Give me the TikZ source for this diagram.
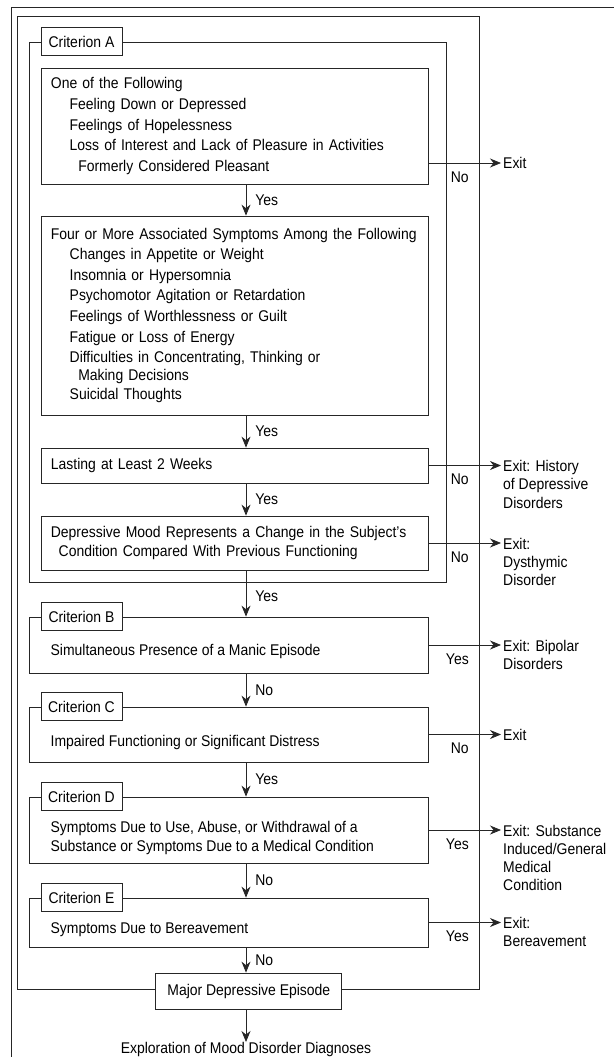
\documentclass[tikz,border=0pt]{standalone}
\usepackage{fontspec}
\setmainfont{Liberation Sans}[FakeStretch=0.9]
\usetikzlibrary{arrows.meta,positioning}

\tikzset{
  frame/.style={draw=black!85, line width=0.8pt, inner sep=0pt},
  stepbox/.style={draw=black!85, line width=0.8pt, text width=368.4pt, align=left,
    inner xsep=9.4pt, inner ysep=0pt, font=\fontsize{15.5}{20.6}\selectfont},
  critbox/.style={draw=black!85, line width=0.8pt, minimum width=399.3pt, inner sep=0pt},
  critlabel/.style={draw=black!85, line width=0.8pt, fill=white, minimum width=81pt,
    minimum height=28pt, inner sep=0pt, font=\fontsize{15.5}{18}\selectfont},
  boxtext/.style={inner sep=0pt, align=left, anchor=west, font=\fontsize{15.5}{19}\selectfont},
  exittext/.style={inner xsep=2pt, inner ysep=0pt, align=left, anchor=north west,
    font=\fontsize{15.5}{18.3}\selectfont},
  flow/.style={draw=black!85, line width=0.8pt, -{Stealth[length=11pt,width=9pt]}},
  ans/.style={right, inner sep=0pt, xshift=9pt, font=\fontsize{15.5}{18}\selectfont},
  side/.style={anchor=north east, inner sep=0pt, yshift=-8pt, font=\fontsize{15.5}{18}\selectfont}
}

\begin{document}
\begin{tikzpicture}[x=1pt, y=-1pt]
  \useasboundingbox (0,0) rectangle (614,1057);
  \coordinate (spine) at (246,0);

  % frames
  \draw[frame] (11,1057) -- (11,7) -- (614,7);
  \node[frame, minimum width=461.4pt, minimum height=973pt] (outer) at (248.3,502.5) {};
  \node[frame, minimum width=416.6pt, minimum height=540pt] (framea) at (237.7,312) {};

  % criterion A
  \node[stepbox, minimum height=116pt] (one) at (235.1,126) {One of the Following\\
    \hspace*{18.8pt}Feeling Down or Depressed\\
    \hspace*{18.8pt}Feelings of Hopelessness\\
    \hspace*{18.8pt}Loss of Interest and Lack of Pleasure in Activities\\
    \hspace*{27.4pt}Formerly Considered Pleasant};
  \node[stepbox, minimum height=199pt] (symptoms) at (235.1,315.5) {Four or More Associated Symptoms Among the Following\\
    \hspace*{18.8pt}Changes in Appetite or Weight\\
    \hspace*{18.8pt}Insomnia or Hypersomnia\\
    \hspace*{18.8pt}Psychomotor Agitation or Retardation\\
    \hspace*{18.8pt}Feelings of Worthlessness or Guilt\\
    \hspace*{18.8pt}Fatigue or Loss of Energy\\
    \hspace*{18.8pt}Difficulties in Concentrating, Thinking or\\[-2.5pt]
    \hspace*{27.4pt}Making Decisions\\[-1.5pt]
    \hspace*{18.8pt}Suicidal Thoughts};
  \node[stepbox, minimum height=35pt] (weeks) at (235.1,465.5) {Lasting at Least 2 Weeks};
  \node[stepbox, minimum height=54pt] (change) at (235.1,543) {Depressive Mood Represents a Change in the Subject's\\[-1.6pt]
    \hspace*{7.8pt}Condition Compared With Previous Functioning};
  \node[critlabel, right=11.6pt of framea.north west] (laba) {Criterion A};

  % criteria B to E
  \node[critbox, minimum height=56pt] (mania) at (229,645) {};
  \node[critlabel, right=11.6pt of mania.north west] (labb) {Criterion B};
  \node[boxtext] (maniatext) at ([xshift=21.5pt,yshift=-6pt]mania.west) {Simultaneous Presence of a Manic Episode};

  \node[critbox, minimum height=55pt] (distress) at (229,734.5) {};
  \node[critlabel, right=11.6pt of distress.north west] (labc) {Criterion C};
  \node[boxtext] (distresstext) at ([xshift=21.5pt,yshift=-7.5pt]distress.west) {Impaired Functioning or Significant Distress};

  \node[critbox, minimum height=66pt] (substance) at (229,830) {};
  \node[critlabel, right=11.6pt of substance.north west] (labd) {Criterion D};
  \node[boxtext] (substancetext) at ([xshift=21.5pt,yshift=-7.5pt]substance.west) {Symptoms Due to Use, Abuse, or Withdrawal of a\\
    Substance or Symptoms Due to a Medical Condition};

  \node[critbox, minimum height=49pt] (grief) at (229,922.5) {};
  \node[critlabel, right=11.6pt of grief.north west] (labe) {Criterion E};
  \node[boxtext] (grieftext) at ([xshift=21.5pt,yshift=-7.5pt]grief.west) {Symptoms Due to Bereavement};

  \node[draw=black!85, line width=0.8pt, fill=white, minimum width=186pt, minimum height=36pt,
    inner sep=0pt, font=\fontsize{15.5}{18}\selectfont] (mde) at (248.8,991) {Major Depressive Episode};
  \node[anchor=north, inner sep=0pt, font=\fontsize{15.5}{18}\selectfont] (explore) at (246,1042) {Exploration of Mood Disorder Diagnoses};

  % exits
  \node[exittext, anchor=west] (exit1) at (501,163) {Exit};
  \node[exittext] (exit2) at (501,460.1) {Exit: History\\of Depressive\\Disorders};
  \node[exittext] (exit3) at (501,537.6) {Exit:\\Dysthymic\\Disorder};
  \node[exittext] (exit4) at (501,639.6) {Exit: Bipolar\\Disorders};
  \node[exittext, anchor=west] (exit5) at (501,734.5) {Exit};
  \node[exittext] (exit6) at (501,824.6) {Exit: Substance\\Induced/General\\Medical\\Condition};
  \node[exittext] (exit7) at (501,917.1) {Exit:\\Bereavement};

  % main flow
  \draw[flow] (one.south -| spine) -- node[ans] {Yes} (symptoms.north -| spine);
  \draw[flow] (symptoms.south -| spine) -- node[ans] {Yes} (weeks.north -| spine);
  \draw[flow] (weeks.south -| spine) -- node[ans] {Yes} (change.north -| spine);
  \draw[flow] (change.south -| spine) -- node[ans, pos=0.57] {Yes} (mania.north -| spine);
  \draw[flow] (mania.south -| spine) -- node[ans] {No} (distress.north -| spine);
  \draw[flow] (distress.south -| spine) -- node[ans] {Yes} (substance.north -| spine);
  \draw[flow] (substance.south -| spine) -- node[ans] {No} (grief.north -| spine);
  \draw[flow] (grief.south -| spine) -- node[ans] {No} (mde.north -| spine);
  \draw[flow] (mde.south -| spine) -- (explore.north);

  % exit connectors
  \draw[flow] (one.east |- exit1.west) -- node[side, pos=0.557] {No} (exit1.west);
  \draw[flow] (weeks.east) -- node[side, pos=0.557] {No} (weeks.east -| exit2.west);
  \draw[flow] (change.east) -- node[side, pos=0.557] {No} (change.east -| exit3.west);
  \draw[flow] (mania.east) -- node[side, pos=0.557] {Yes} (mania.east -| exit4.west);
  \draw[flow] (distress.east) -- node[side, pos=0.557] {No} (exit5.west);
  \draw[flow] (substance.east) -- node[side, pos=0.557] {Yes} (substance.east -| exit6.west);
  \draw[flow] (grief.east) -- node[side, pos=0.557] {Yes} (grief.east -| exit7.west);
\end{tikzpicture}
\end{document}
